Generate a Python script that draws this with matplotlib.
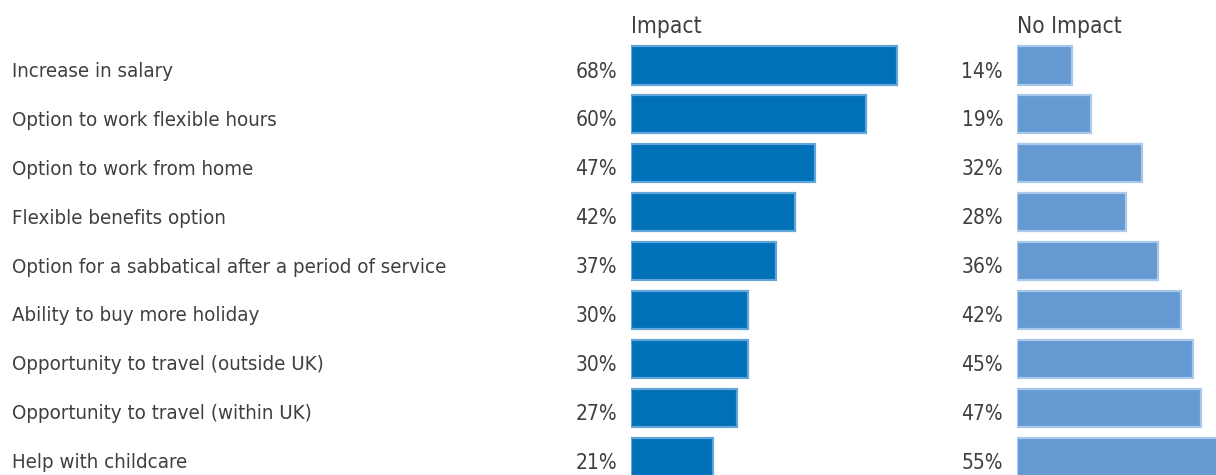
import matplotlib
matplotlib.use("Agg")
import matplotlib.pyplot as plt
from matplotlib.transforms import blended_transform_factory

categories = [
    "Increase in salary",
    "Option to work flexible hours",
    "Option to work from home",
    "Flexible benefits option",
    "Option for a sabbatical after a period of service",
    "Ability to buy more holiday",
    "Opportunity to travel (outside UK)",
    "Opportunity to travel (within UK)",
    "Help with childcare",
]
impact = [68, 60, 47, 42, 37, 30, 30, 27, 21]
no_impact = [14, 19, 32, 28, 36, 42, 45, 47, 55]

FAMILY = ["DejaVu Sans"]
STRETCH = "condensed"
TEXT = "#3f3f3f"

W, H = 1216, 475
fig = plt.figure(figsize=(W / 100, H / 100), dpi=100)

# rows are laid out in pixels: first bar centre at 65.5, step 48.9
step = 48.9
top = 65.5 - step / 2
n = len(categories)
ax_h = step * n
ax_bottom = (H - top - ax_h) / H
px_per_pct = 3.91


def panel(x0, width, values, title, fill, edge):
    ax = fig.add_axes([x0 / W, ax_bottom, width / W, ax_h / H])
    ax.set_xlim(0, width / px_per_pct)
    ax.set_ylim(n - 0.5, -0.5)
    ax.axis("off")
    ax.barh(range(n), values, height=0.78, color=fill, edgecolor=edge,
            linewidth=1.6)
    for i, v in enumerate(values):
        ax.annotate(f"{v}%", xy=(0, i), xytext=(-14, -6),
                    textcoords="offset pixels", ha="right", va="center",
                    fontsize=15, family=FAMILY, stretch=STRETCH, color=TEXT,
                    annotation_clip=False)
    ax.text(0, -0.79, title, ha="left", va="center", fontsize=16.3,
            family=FAMILY, stretch=STRETCH, color=TEXT)
    return ax


ax1 = panel(631, 330, impact, "Impact", "#0070b9", "#62a5d8")
ax2 = panel(1017, 260, no_impact, "No Impact", "#6499d2", "#a9c9ea")

trans = blended_transform_factory(fig.transFigure, ax1.transData)
for i, c in enumerate(categories):
    ax1.annotate(c, xy=(12 / W, i), xycoords=trans, xytext=(0, -6),
                 textcoords="offset pixels", ha="left", va="center",
                 fontsize=14.7, family=FAMILY, stretch=STRETCH, color=TEXT,
                 annotation_clip=False)

fig.savefig("out.png", dpi=100)
